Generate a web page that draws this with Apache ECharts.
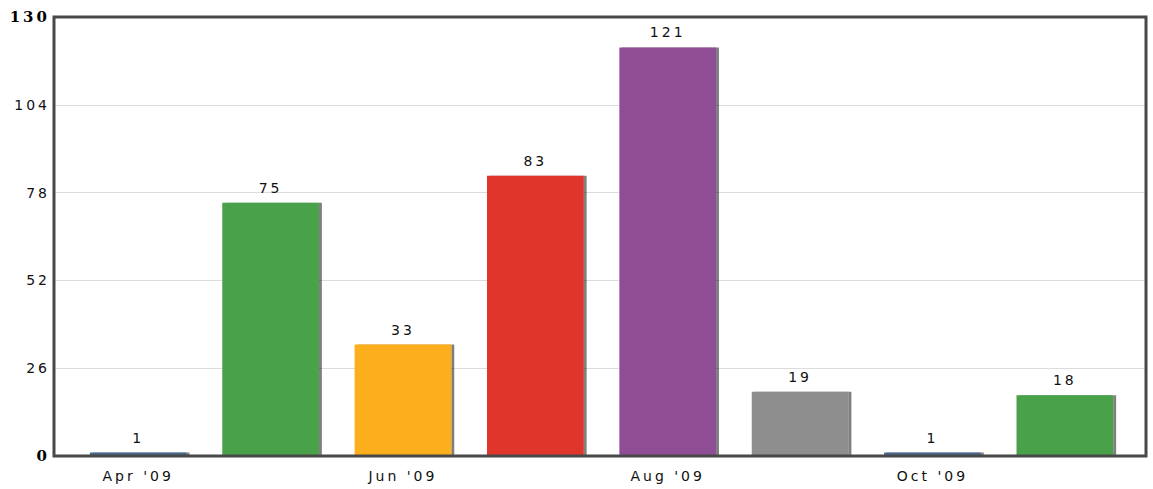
<!DOCTYPE html>
<html><head><meta charset="utf-8">
<style>html,body{margin:0;padding:0;background:#fff}#c{width:1153px;height:489px}#c svg text{letter-spacing:3px}</style>
<script src="https://cdn.jsdelivr.net/npm/echarts@6/dist/echarts.min.js"></script>
</head><body><div id="c"></div>
<script>
const categories = ["Apr '09","May '09","Jun '09","Jul '09","Aug '09","Sep '09","Oct '09","Nov '09"];
const values = [1, 75, 33, 83, 121, 19, 1, 18];
const barColors = ["#48698c","#4aa24a","#fcae1c","#e0352c","#8f4e94","#8e8e8e","#48698c","#4aa24a"];
const yTicks = [0, 26, 52, 78, 104, 130];

const chart = echarts.init(document.getElementById('c'), null, {renderer: 'svg'});
chart.setOption({
  animation: false,
  grid: [
    {left: 54, right: 7, top: 17, bottom: 33, show: false},
    {left: 72, right: 22, top: 17, bottom: 33, show: false}
  ],
  xAxis: [
    {gridIndex: 0, type: 'value', min: 0, max: 1, show: false},
    {gridIndex: 1, type: 'category', data: categories,
     axisLine: {show: false}, axisTick: {show: false},
     axisLabel: {interval: 1, margin: 13, color: '#111', fontFamily: 'DejaVu Sans', fontSize: 14}}
  ],
  yAxis: [
    {gridIndex: 0, type: 'value', min: yTicks[0], max: yTicks[yTicks.length-1], interval: 26,
     axisLine: {show: false}, axisTick: {show: false},
     splitLine: {lineStyle: {color: '#dcdcdc', width: 1}},
     axisLabel: {margin: 4, fontSize: 14,
       formatter: v => (v === 0 || v === 130) ? '{b|' + v + '}' : '{r|' + v + '}',
       rich: {
         b: {fontFamily: 'DejaVu Serif', fontWeight: 'bold', fontSize: 15, color: '#000'},
         r: {fontFamily: 'DejaVu Sans', fontSize: 14, color: '#111'}
       }}},
    {gridIndex: 1, type: 'value', min: yTicks[0], max: yTicks[yTicks.length-1], show: false}
  ],
  series: [{
    type: 'bar', xAxisIndex: 1, yAxisIndex: 1,
    barWidth: '73%',
    data: values.map((v, i) => ({value: v, itemStyle: {color: barColors[i]}})),
    itemStyle: {shadowColor: 'rgba(0,0,0,0.5)', shadowOffsetX: 3, shadowOffsetY: 0, shadowBlur: 1},
    label: {show: true, position: 'top', distance: 8, color: '#111',
            fontFamily: 'DejaVu Sans', fontSize: 14}
  }],
  graphic: [{
    type: 'rect', shape: {x: 54, y: 17, width: 1092, height: 439},
    style: {fill: 'none', stroke: '#484848', lineWidth: 3}, z: 100
  }]
});
</script></body></html>
